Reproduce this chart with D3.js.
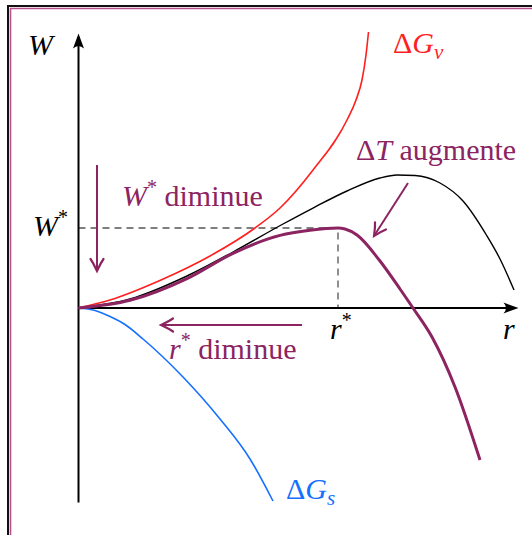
<!DOCTYPE html>
<html>
<head>
<meta charset="utf-8">
<script src="https://cdn.jsdelivr.net/npm/d3@7"></script>
<style>
  html, body { margin: 0; padding: 0; background: #fff; }
  svg { display: block; }
  text { font-family: "Liberation Serif", "DejaVu Serif", serif; }
</style>
</head>
<body>
<div id="chart"></div>
<script>
/* W(r) : enthalpie libre de formation d'un germe */

// curves (r, W in arbitrary units)
const rGv = [0, 0.716, 1.875, 2.989, 4.011, 4.58, 5.33, 6.102, 6.307, 6.443, 6.534, 6.591];
const wGv = [0, 0.286, 1.0, 1.857, 2.857, 3.571, 4.929, 6.714, 7.429, 8.143, 9.036, 9.857];

const rGs = [0, 0.375, 0.716, 1.057, 1.466, 2.375, 3.216, 3.898, 4.42];
const wGs = [0, -0.089, -0.304, -0.589, -1.107, -2.464, -3.964, -5.393, -6.893];

const rHot = [0, 1.17, 2.466, 3.511, 4.648, 5.33, 6.102, 6.852, 7.239, 7.648, 8.216, 8.739, 9.284, 9.58, 9.898];
const wHot = [0, 0.321, 1.143, 2.0, 3.0, 3.571, 4.179, 4.643, 4.75, 4.732, 4.464, 3.821, 2.571, 1.75, 0.643];

const rCold = [0, 1.17, 2.466, 3.511, 4.58, 5.261, 5.898, 6.057, 6.33, 6.852, 7.307, 7.602, 8.034, 8.557, 9.125];
const wCold = [0, 0.275, 1.05, 1.954, 2.593, 2.775, 2.857, 2.821, 2.607, 1.679, 0.679, 0, -1.036, -2.821, -5.429];

const rStar = 5.898, wStar = 2.857;   // maximum of the purple curve
const rMax = 10, wMax = 9.8, wMin = -6.95;

const purple = "#8c2462", red = "#ff1f1f", blue = "#1670ff";

const width = 532, height = 535;

let svg = d3.select("#chart")
    .append("svg")
    .attr("width", width)
    .attr("height", height);

// frame (only top and left edges are visible)
svg.append("path").attr("d", "M8,535 V6 H532").attr("fill", "none")
    .attr("stroke", "#111").attr("stroke-width", 2);
svg.append("path").attr("d", "M10.5,535 V8.5 H532").attr("fill", "none")
    .attr("stroke", "#b8508e").attr("stroke-width", 1.6);

let x = d3.scaleLinear().domain([0, 10]).range([78.5, 518.5]);
let y = d3.scaleLinear().domain([0, 10]).range([308, 28]);

let line = d3.line()
    .x(d => x(d[0]))
    .y(d => y(d[1]))
    .curve(d3.curveMonotoneX);

// dashed guides at r*, W*
svg.append("path")
    .attr("d", `M${x(0)},${y(wStar)} H${x(rStar)} V${y(0)}`)
    .attr("fill", "none")
    .attr("stroke", "#555")
    .attr("stroke-width", 1.3)
    .attr("stroke-dasharray", "7,5");

// axes
svg.append("line")
    .attr("x1", x(0)).attr("y1", y(wMin))
    .attr("x2", x(0)).attr("y2", y(wMax) + 4)
    .attr("stroke", "#000").attr("stroke-width", 2);
svg.append("line")
    .attr("x1", x(0)).attr("y1", y(0))
    .attr("x2", x(rMax) - 6).attr("y2", y(0))
    .attr("stroke", "#000").attr("stroke-width", 2);

function axisHead(tx, ty, angle) {
    svg.append("path")
        .attr("d", "M0,0 L-15,-5.5 Q-10,0 -15,5.5 Z")
        .attr("transform", `translate(${tx},${ty}) rotate(${angle})`)
        .attr("fill", "#000");
}
axisHead(x(0), y(wMax), -90);
axisHead(x(rMax), y(0), 0);

// curves
svg.append("path").datum(d3.zip(rGv, wGv))
    .attr("d", line).attr("fill", "none")
    .attr("stroke", red).attr("stroke-width", 1.6);
svg.append("path").datum(d3.zip(rGs, wGs))
    .attr("d", line).attr("fill", "none")
    .attr("stroke", blue).attr("stroke-width", 1.6);
svg.append("path").datum(d3.zip(rHot, wHot))
    .attr("d", line).attr("fill", "none")
    .attr("stroke", "#000").attr("stroke-width", 1.4);
svg.append("path").datum(d3.zip(rCold, wCold))
    .attr("d", line).attr("fill", "none")
    .attr("stroke", purple).attr("stroke-width", 3);

// purple annotation arrows
function arrow(x1, y1, x2, y2) {
    svg.append("line")
        .attr("x1", x1).attr("y1", y1).attr("x2", x2).attr("y2", y2)
        .attr("stroke", purple).attr("stroke-width", 2);
    let a = Math.atan2(y2 - y1, x2 - x1) * 180 / Math.PI;
    svg.append("path")
        .attr("d", "M-12,-6.5 C-7,-3 -2,-1 0,0 C-2,1 -7,3 -12,6.5")
        .attr("transform", `translate(${x2},${y2}) rotate(${a})`)
        .attr("fill", "none")
        .attr("stroke", purple).attr("stroke-width", 2.2)
        .attr("stroke-linecap", "round");
}
arrow(97, 165, 97, 271);
arrow(302, 325, 161, 325);
arrow(408, 183, 374, 236);

// labels
function label(tx, ty, color, parts) {
    let t = svg.append("text")
        .attr("x", tx).attr("y", ty)
        .attr("fill", color)
        .style("font-size", "30px");
    parts.forEach(p => {
        let s = t.append("tspan").text(p.t);
        if (p.i) s.style("font-style", "italic");
        if (p.sup) s.style("font-size", "20px").attr("dy", -12);
        if (p.sub) s.style("font-size", "21px").attr("dy", 6);
        if (p.back) s.attr("dy", p.back);
    });
    return t;
}

label(28, 55, "#000", [{ t: "W", i: true }]);
label(33, 236, "#000", [{ t: "W", i: true }, { t: "*", sup: true }]);
label(x(rStar) - 8, 339, "#000", [{ t: "r", i: true }, { t: "*", sup: true }]);
label(503, 339, "#000", [{ t: "r", i: true }]);

label(393, 53, red, [{ t: "Δ" }, { t: "G", i: true }, { t: "v", i: true, sub: true }]);
label(286, 499, blue, [{ t: "Δ" }, { t: "G", i: true }, { t: "s", i: true, sub: true }]);

label(122, 206, purple, [{ t: "W", i: true }, { t: "*", sup: true }, { t: " diminue", back: 12 }]);
label(356, 160, purple, [{ t: "Δ" }, { t: "T", i: true }, { t: " augmente" }]);
label(169, 359, purple, [{ t: "r", i: true }, { t: "*", sup: true }, { t: " diminue", back: 12 }]);
</script>
</body>
</html>
